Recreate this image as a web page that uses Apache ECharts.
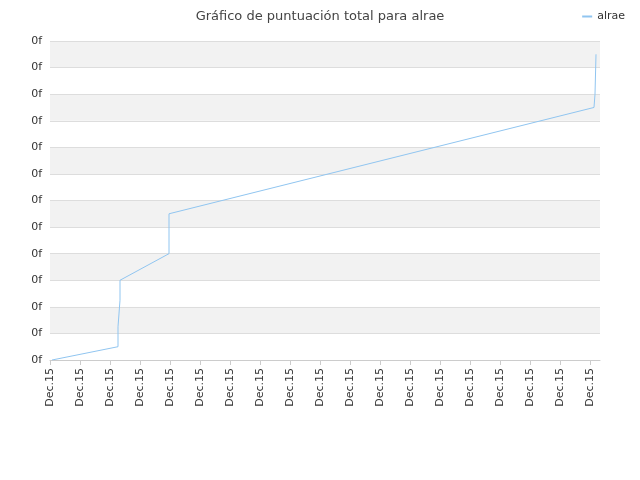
<!DOCTYPE html><html><head><meta charset="utf-8"><script src="https://cdn.jsdelivr.net/npm/echarts@6/dist/echarts.min.js"></script></head><body style="margin:0"><div id="c" style="width:640px;height:480px"></div><script>
const xs=[2,68,68,70,70,119,119,544,545,546];
const ys=[0,0.5,1.25,2.25,3,4,5.5,9.5,10,11.5];
const xLabel='Dec.15', yLabel='0f';
const ch=echarts.init(document.getElementById('c'));
ch.setOption({animation:false,
title:{text:'Gráfico de puntuación total para alrae',left:'center',top:5,textStyle:{fontFamily:'DejaVu Sans',fontSize:13,fontWeight:'normal',color:'#444'}},
legend:{right:10,top:6,itemWidth:10,itemHeight:2,icon:'rect',textStyle:{fontFamily:'DejaVu Sans',fontSize:11,color:'#333'},data:['alrae']},
grid:{left:50,right:40,top:41,bottom:120},
xAxis:{type:'value',min:0,max:550,interval:30,axisLine:{lineStyle:{color:'#ccc'}},axisTick:{show:true,lineStyle:{color:'#ccc'}},splitLine:{show:false},
axisLabel:{rotate:90,formatter:()=>xLabel,fontFamily:'DejaVu Sans',fontSize:11,color:'#333',showMaxLabel:false}},
yAxis:{type:'value',min:0,max:12,interval:1,axisLine:{show:false},axisTick:{show:false},splitLine:{lineStyle:{color:'#ddd'}},
splitArea:{show:true,areaStyle:{color:['#ffffff','#f2f2f2']}},axisLabel:{formatter:()=>yLabel,fontFamily:'DejaVu Sans',fontSize:11,color:'#333'}},
series:[{name:'alrae',type:'line',showSymbol:false,data:xs.map((x,i)=>[x,ys[i]]),lineStyle:{color:'#90c5f0',width:1},itemStyle:{color:'#90c5f0'}}]});
</script></body></html>
